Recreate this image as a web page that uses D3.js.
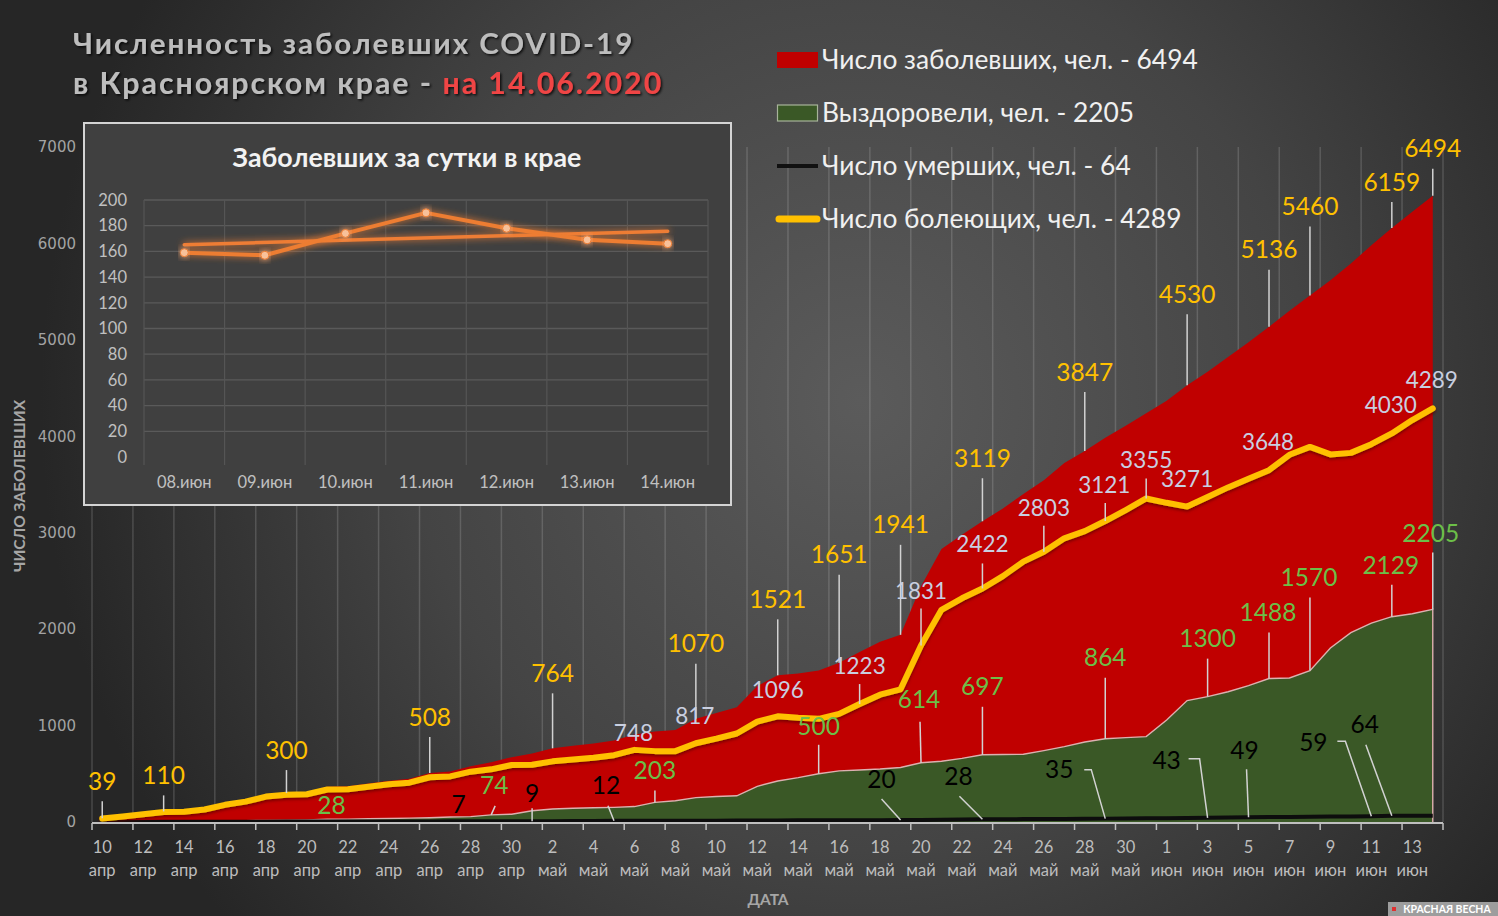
<!DOCTYPE html>
<html><head><meta charset="utf-8">
<script src="https://cdn.jsdelivr.net/npm/d3@7/dist/d3.min.js"></script>
<style>html,body{margin:0;padding:0;background:#2a2a2a;overflow:hidden}</style>
</head><body><svg id="c" width="1498" height="916"></svg>
<script>
// ---------- DATA ----------
// daily values from 10 Apr 2020 (index 0) to 14 Jun 2020 (index 65)
const totalCases = [39,60,85,110,115,140,190,225,280,300,310,365,370,400,428,448,508,525,578,620,672,710,764,790,815,845,908,938,955,1070,1130,1190,1410,1521,1540,1570,1651,1763,1870,1941,2445,2830,2980,3119,3250,3402,3543,3723,3847,3985,4110,4240,4368,4530,4670,4821,4975,5136,5301,5460,5617,5791,5981,6159,6328,6494];
const recovered = [3,4,5,6,8,10,12,14,16,18,22,28,30,34,37,40,44,52,56,74,81,117,135,143,148,152,160,203,220,253,265,272,370,425,460,500,530,540,550,565,614,630,660,697,700,702,740,781,830,864,875,885,1058,1259,1300,1351,1415,1488,1493,1570,1805,1963,2063,2129,2160,2205];
const deaths = [1,1,1,2,2,2,3,3,3,4,4,4,5,5,5,6,6,7,7,8,8,9,9,10,11,12,12,13,13,14,14,15,15,16,17,17,18,19,19,20,22,24,26,28,29,30,31,32,33,35,37,38,40,41,43,46,49,51,53,55,56,58,59,64,64,64];
const active = [36,56,80,104,107,130,178,211,264,282,288,337,340,366,391,408,464,473,522,546,591,593,629,647,667,693,748,735,735,817,865,918,1040,1096,1080,1070,1121,1223,1320,1376,1831,2200,2320,2422,2550,2700,2803,2942,3017,3121,3235,3355,3310,3271,3370,3470,3560,3648,3808,3890,3812,3828,3918,4030,4168,4289];

const tickDays = ["10","12","14","16","18","20","22","24","26","28","30","2","4","6","8","10","12","14","16","18","20","22","24","26","28","30","1","3","5","7","9","11","13"];
const tickMonths = ["апр","апр","апр","апр","апр","апр","апр","апр","апр","апр","апр","май","май","май","май","май","май","май","май","май","май","май","май","май","май","май","июн","июн","июн","июн","июн","июн","июн"];
const yTicks = [0,1000,2000,3000,4000,5000,6000,7000];

const dailyDates = ["08.июн","09.июн","10.июн","11.июн","12.июн","13.июн","14.июн"];
const dailyNew = [159,157,174,190,178,169,166];
const insetYTicks = [0,20,40,60,80,100,120,140,160,180,200];

const legendNames = ["Число заболевших, чел. - 6494","Выздоровели, чел. - 2205","Число умерших, чел. - 64","Число болеющих, чел. - 4289"];

// ---------- DRAW ----------
const FONT = "Lato, 'Open Sans', sans-serif";
const svg = d3.select("#c");
const defs = svg.append("defs");

const bg = defs.append("radialGradient").attr("id","bg").attr("gradientUnits","userSpaceOnUse")
  .attr("cx",860).attr("cy",400).attr("r",820);
bg.append("stop").attr("offset","0").attr("stop-color","#5b5b5b");
bg.append("stop").attr("offset","0.55").attr("stop-color","#444");
bg.append("stop").attr("offset","1").attr("stop-color","#262626");
svg.append("rect").attr("width",1498).attr("height",916).attr("fill","url(#bg)");

const sh = defs.append("filter").attr("id","lineShadow").attr("x","-5%").attr("y","-5%").attr("width","110%").attr("height","120%");
sh.append("feDropShadow").attr("dx",0).attr("dy",2).attr("stdDeviation",1.5).attr("flood-color","#5a0000").attr("flood-opacity",0.7);
const tsh = defs.append("filter").attr("id","textShadow");
tsh.append("feDropShadow").attr("dx",1.5).attr("dy",1.5).attr("stdDeviation",1.2).attr("flood-color","#000").attr("flood-opacity",0.8);
const glow = defs.append("filter").attr("id","glow").attr("x","-20%").attr("y","-50%").attr("width","140%").attr("height","200%");
glow.append("feGaussianBlur").attr("in","SourceGraphic").attr("stdDeviation",3.5).attr("result","b");
const gm = glow.append("feMerge");
gm.append("feMergeNode").attr("in","b");
gm.append("feMergeNode").attr("in","SourceGraphic");

const x = d3.scaleLinear().domain([-0.5, 65.5]).range([92, 1443]);
const y = d3.scaleLinear().domain([0, 7000]).range([822, 147]);

// vertical gridlines
const gridIdx = d3.range(34).map(k => -0.5 + 2*k);
svg.append("g").selectAll("line").data(gridIdx).join("line")
  .attr("x1",d=>x(d)).attr("x2",d=>x(d)).attr("y1",y(7000)).attr("y2",y(0))
  .attr("stroke","rgba(210,210,210,0.2)").attr("stroke-width",1.5);

// areas
const areaGen = d3.area().x((d,i)=>x(i)).y0(y(0)).y1(d=>y(d));
const lineGen = d3.line().x((d,i)=>x(i)).y(d=>y(d));
svg.append("path").attr("d",areaGen(totalCases)).attr("fill","#c00000");
svg.append("path").attr("d",areaGen(recovered)).attr("fill","#3a5826");
svg.append("path").attr("d",lineGen(recovered) + `L${x(65)},${y(0)}`).attr("fill","none")
  .attr("stroke","#dcb0b0").attr("stroke-width",1.4);
svg.append("path").attr("d",lineGen(deaths)).attr("fill","none").attr("stroke","#0d0d0d").attr("stroke-width",4);
svg.append("path").attr("d",lineGen(active)).attr("fill","none").attr("stroke","#ffc000")
  .attr("stroke-width",6).attr("stroke-linejoin","round").attr("stroke-linecap","round").attr("filter","url(#lineShadow)");

// x axis
svg.append("line").attr("x1",x(-0.5)).attr("x2",x(65.5)).attr("y1",y(0)+1).attr("y2",y(0)+1)
  .attr("stroke","#bfbfbf").attr("stroke-width",2);
svg.append("g").selectAll("line").data(gridIdx).join("line")
  .attr("x1",d=>x(d)).attr("x2",d=>x(d)).attr("y1",y(0)+1).attr("y2",y(0)+8)
  .attr("stroke","#bfbfbf").attr("stroke-width",1.5);
const tickIdx = tickDays.map((d,k)=>2*k);
const xl = svg.append("g").attr("font-family",FONT).attr("font-size",16.5).attr("fill","#bdbdbd").attr("text-anchor","middle");
xl.selectAll("text.d").data(tickIdx).join("text").attr("class","d")
  .attr("x",d=>x(d)).attr("y",853).text((d,k)=>tickDays[k]);
xl.selectAll("text.m").data(tickIdx).join("text").attr("class","m")
  .attr("x",d=>x(d)).attr("y",876).text((d,k)=>tickMonths[k]);
svg.append("text").attr("x",768).attr("y",905).attr("text-anchor","middle").attr("font-family",FONT)
  .attr("font-weight","bold").attr("font-size",15.5).attr("fill","#a6a6a6").text("ДАТА");

// y axis labels
svg.append("g").selectAll("text").data(yTicks).join("text")
  .attr("x",76).attr("y",d=>y(d)).attr("dy","0.35em").attr("text-anchor","end")
  .attr("font-family","'DejaVu Sans', Verdana, sans-serif").attr("font-size",15).attr("fill","#a3a3a3").text(d=>d);
svg.append("text").attr("transform","translate(25,486) rotate(-90)").attr("text-anchor","middle")
  .attr("font-family",FONT).attr("font-weight","bold").attr("font-size",15.5).attr("fill","#a6a6a6").text("ЧИСЛО ЗАБОЛЕВШИХ");

// ---------- annotations ----------
function annotate(series, specs, color, size){
  const g = svg.append("g");
  specs.forEach(s=>{
    const px = x(s.i), py = y(series[s.i]);
    if (s.lead) {
      const pts = s.lead.map(p=>[px+p[0], py+p[1]]);
      g.append("path").attr("d", d3.line()(pts)).attr("fill","none").attr("stroke","#d2d2d2").attr("stroke-width",1.5);
    }
    g.append("text").attr("x",px+(s.dx||0)).attr("y",py+s.dy).attr("dy","0.35em").attr("text-anchor","middle")
      .attr("font-family",FONT).attr("font-size",size).attr("fill",color).text(series[s.i]);
  });
}
const totalSpecs = [[0,-37],[3,-36],[9,-43],[16,-56],[22,-75],[29,-75],[33,-76],[36,-108],[39,-110],[43,-63],[48,-79],[53,-91],[57,-77],[59,-89],[63,-46],[65,-47]]
  .map(([i,dy])=>({i, dy, lead:[[0,0],[0,dy+20]]}));
annotate(totalCases, totalSpecs, "#ffc000", 24.5);

annotate(active, [
  {i:26,dx:-1,dy:-17},{i:29,dx:-1,dy:-27},{i:33,dy:-26},
  {i:37,dy:-38,lead:[[0,0],[0,-20]]},{i:40,dy:-54,lead:[[0,0],[0,-37]]},
  {i:43,dy:-44,lead:[[0,0],[0,-25]]},{i:46,dy:-44,lead:[[0,0],[0,-26]]},
  {i:49,dx:-1,dy:-36,lead:[[0,0],[0,-18]]},{i:51,dy:-38,lead:[[0,0],[0,-20]]},
  {i:53,dy:-27},{i:57,dx:-1,dy:-28},{i:63,dx:-1,dy:-28},{i:65,dx:-1,dy:-28}
], "#c9cfe0", 22.5);

annotate(recovered, [
  {i:11,dx:4,dy:-14},{i:19,dx:3,dy:-29,lead:[[0,0],[4,-9]]},
  {i:27,dy:-32,lead:[[0,0],[0,-12]]},{i:35,dy:-47,lead:[[0,0],[0,-29]]},
  {i:40,dx:-2,dy:-63,lead:[[0,0],[-1,-41]]},{i:43,dy:-68,lead:[[0,0],[0,-48]]},
  {i:49,dy:-81,lead:[[0,0],[0,-61]]},{i:54,dy:-58,lead:[[0,0],[0,-38]]},
  {i:57,dx:-1,dy:-66,lead:[[0,0],[0,-46]]},{i:59,dx:-1,dy:-93,lead:[[0,0],[0,-73]]},
  {i:63,dx:-1,dy:-51,lead:[[0,0],[0,-32]]},{i:65,dx:-2,dy:-76,lead:[[0,0],[0,-57]]}
], "#6cbf48", 24.5);

annotate(deaths, [
  {i:18,dx:-12,dy:-17},{i:21,dy:-28,lead:[[0,0],[0,-13]]},
  {i:25,dx:-8,dy:-35,lead:[[0,0],[-6,-15]]},{i:39,dx:-19,dy:-41,lead:[[0,0],[-19,-21]]},
  {i:43,dx:-24,dy:-43,lead:[[0,0],[-23,-23]]},{i:49,dx:-46,dy:-49,lead:[[0,0],[-14,-49],[-21,-49]]},
  {i:54,dx:-41,dy:-57,lead:[[0,0],[-8,-59],[-19,-59]]},{i:56,dx:-4,dy:-67,lead:[[0,0],[-2,-48]]},
  {i:62,dx:-58,dy:-74,lead:[[0,0],[-26,-75],[-34,-75]]},{i:63,dx:-27,dy:-91,lead:[[0,0],[-26,-71]]}
], "#000", 24.5);

// ---------- helper to fit width ----------
function fit(sel, w){
  const n = sel.node(); const cur = n.getComputedTextLength();
  const fs = parseFloat(sel.attr("font-size"));
  sel.attr("font-size", fs * w / cur);
}

// ---------- title ----------
const t1 = svg.append("text").attr("x",73).attr("y",54).attr("font-family",FONT).attr("font-weight","bold")
  .attr("font-size",27).attr("letter-spacing",2).attr("fill","#bdbdbd").attr("filter","url(#textShadow)")
  .text("Численность заболевших COVID-19");
fit(t1, 567);
const t2 = svg.append("text").attr("x",73).attr("y",94).attr("font-family",FONT).attr("font-weight","bold")
  .attr("font-size",27).attr("letter-spacing",2).attr("fill","#bdbdbd").attr("filter","url(#textShadow)");
t2.append("tspan").text("в Красноярском крае - ");
t2.append("tspan").attr("fill","#f04545").text("на 14.06.2020");
fit(t2, 599);

// ---------- legend ----------
const lg = svg.append("g");
const ly = [60,113,166,219];
lg.append("rect").attr("x",777).attr("y",ly[0]-8).attr("width",41).attr("height",16).attr("fill","#c00000");
lg.append("rect").attr("x",777.5).attr("y",ly[1]-8).attr("width",40).attr("height",16).attr("fill","#3a5826").attr("stroke","#a7b39a").attr("stroke-width",1.2);
lg.append("line").attr("x1",777).attr("x2",818).attr("y1",ly[2]).attr("y2",ly[2]).attr("stroke","#111").attr("stroke-width",4);
lg.append("line").attr("x1",779).attr("x2",817).attr("y1",ly[3]).attr("y2",ly[3]).attr("stroke","#ffc000").attr("stroke-width",7).attr("stroke-linecap","round");
const legTexts = lg.selectAll("text").data(legendNames).join("text")
  .attr("x",822).attr("y",(d,i)=>ly[i]).attr("dy","0.35em").attr("font-family",FONT)
  .attr("font-size",25).attr("fill","#f0f0f0").text(d=>d);
const lw = legTexts.nodes()[0].getComputedTextLength();
legTexts.attr("font-size", 25*376/lw);

// ---------- inset ----------
const ins = svg.append("g");
ins.append("rect").attr("x",84).attr("y",123).attr("width",647).attr("height",382)
  .attr("fill","#404040").attr("stroke","#d4d4d4").attr("stroke-width",2);
const it = ins.append("text").attr("x",407).attr("y",158).attr("dy","0.35em").attr("text-anchor","middle")
  .attr("font-family",FONT).attr("font-weight","bold").attr("font-size",22).attr("fill","#f2f2f2")
  .text("Заболевших за сутки в крае");
fit(it, 349);
const ix = d3.scaleBand().domain(dailyDates).range([144,708]);
const iy = d3.scaleLinear().domain([0,200]).range([457,200]);
ins.append("g").selectAll("line").data(insetYTicks.slice(1)).join("line")
  .attr("x1",144).attr("x2",708).attr("y1",d=>iy(d)).attr("y2",d=>iy(d)).attr("stroke","#5a5a5a").attr("stroke-width",1.3);
const vb = dailyDates.map(d=>ix(d)).concat([708]);
ins.append("g").selectAll("line").data(vb).join("line")
  .attr("x1",d=>d).attr("x2",d=>d).attr("y1",200).attr("y2",465).attr("stroke","#555").attr("stroke-width",1.2);
ins.append("g").selectAll("text").data(insetYTicks).join("text")
  .attr("x",127).attr("y",d=>iy(d)).attr("dy","0.35em").attr("text-anchor","end")
  .attr("font-family",FONT).attr("font-size",16.5).attr("fill","#c0c0c0").text(d=>d);
ins.append("g").selectAll("text").data(dailyDates).join("text")
  .attr("x",d=>ix(d)+ix.bandwidth()/2).attr("y",482).attr("dy","0.35em").attr("text-anchor","middle")
  .attr("font-family",FONT).attr("font-size",16.5).attr("fill","#c0c0c0").text(d=>d);
const cx = d=>ix(d)+ix.bandwidth()/2;
// linear trend from the data
const n = dailyNew.length, mx = (n-1)/2, my = d3.mean(dailyNew);
const slope = d3.sum(dailyNew,(v,i)=>(i-mx)*(v-my)) / d3.sum(dailyNew,(v,i)=>(i-mx)*(i-mx));
const trend = [my - slope*mx, my + slope*mx];
ins.append("line").attr("x1",cx(dailyDates[0])).attr("x2",cx(dailyDates[n-1]))
  .attr("y1",iy(trend[0])).attr("y2",iy(trend[1])).attr("stroke","#ee7d35").attr("stroke-width",3.5)
  .attr("stroke-linecap","round").attr("filter","url(#glow)");
ins.append("path").attr("d", d3.line().x((v,i)=>cx(dailyDates[i])).y(v=>iy(v))(dailyNew))
  .attr("fill","none").attr("stroke","#ed7d31").attr("stroke-width",4).attr("stroke-linejoin","round").attr("filter","url(#glow)");
ins.append("g").selectAll("circle").data(dailyNew).join("circle")
  .attr("cx",(v,i)=>cx(dailyDates[i])).attr("cy",v=>iy(v)).attr("r",4)
  .attr("fill","#f8c19a").attr("stroke","#ed7d31").attr("stroke-width",1).attr("filter","url(#glow)");

// ---------- watermark ----------
svg.append("rect").attr("x",1388).attr("y",902).attr("width",110).attr("height",14).attr("fill","#9d9d9d");
svg.append("rect").attr("x",1392).attr("y",907).attr("width",4).attr("height",4).attr("fill","#e03030");
svg.append("text").attr("x",1447).attr("y",909).attr("dy","0.35em").attr("text-anchor","middle")
  .attr("font-family",FONT).attr("font-weight","bold").attr("font-size",10.5).attr("fill","#fff").text("КРАСНАЯ ВЕСНА");
</script></body></html>
